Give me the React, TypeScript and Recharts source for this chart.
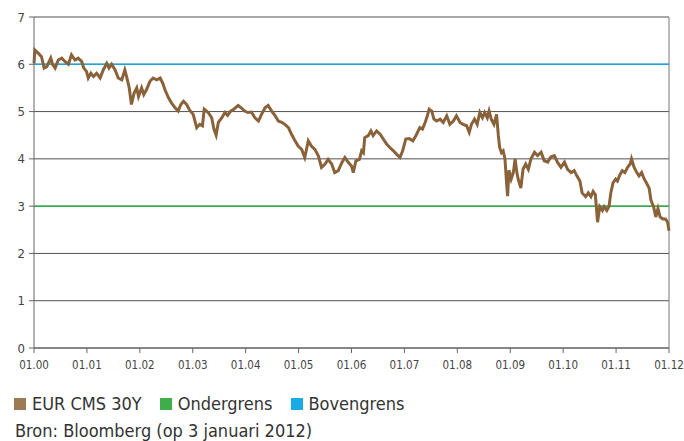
import {
	CartesianGrid,
	Line,
	LineChart,
	ReferenceLine,
	XAxis,
	YAxis,
} from 'recharts';

// months since 01.2000
const months = [
	0, 0.2, 1.0, 1.7, 2.3, 2.9, 3.8, 4.2, 4.8, 5.5, 6.3, 7.0, 7.8, 8.5, 9.3, 10.0, 10.8, 11.3, 11.9,
	12.3, 12.9, 13.5, 14.2, 15.0, 15.7, 16.5, 17.0, 17.6, 18.4, 19.1, 19.9, 20.6, 21.0, 21.6, 22.1,
	22.7, 23.3, 23.7, 24.4, 24.9, 25.5, 26.3, 27.0, 27.8, 28.6, 29.2, 29.7, 30.5, 31.2, 32.0, 32.7,
	33.3, 33.9, 34.6, 35.3, 36.1, 36.9, 37.6, 38.2, 38.6, 39.5, 40.3, 40.8, 41.3, 41.8, 42.6, 43.3,
	43.9, 44.6, 45.3, 46.3, 47.0, 47.8, 48.5, 49.3, 50.1, 50.9, 51.6, 52.4, 53.1, 53.9, 54.7, 55.4,
	56.2, 56.9, 57.7, 58.4, 59.2, 59.9, 60.7, 61.4, 62.2, 62.9, 63.7, 64.5, 65.2, 66.0, 66.7, 67.5,
	68.2, 69.0, 69.8, 70.5, 71.3, 72.0, 72.4, 73.0, 73.8, 74.3, 74.7, 75.0, 75.8, 76.4, 76.9, 77.7,
	78.5, 79.2, 80.0, 80.7, 81.5, 82.2, 83.0, 83.6, 84.3, 85.1, 85.9, 86.6, 87.5, 88.1, 88.7, 89.2,
	89.6, 90.2, 90.7, 91.3, 92.1, 92.8, 93.6, 94.3, 95.1, 95.8, 96.6, 97.3, 98.1, 98.7, 99.2, 99.9,
	100.5, 101.1, 101.7, 102.2, 102.8, 103.2, 103.7, 104.3, 104.9, 105.3, 105.6, 106.0, 106.4, 106.8,
	107.2, 107.4, 107.7, 108.2, 108.7, 109.1, 109.5, 109.8, 110.4, 110.9, 111.5, 112.1, 112.7, 113.5,
	114.2, 115.0, 115.7, 116.5, 117.2, 118.0, 118.7, 119.5, 120.3, 121.0, 121.8, 122.5, 123.1, 123.8,
	124.3, 125.1, 125.7, 126.3, 126.8, 127.3, 127.8, 128.3, 128.9, 129.3, 129.9, 130.4, 130.8, 131.3,
	131.9, 132.3, 132.9, 133.4, 134.0, 134.6, 135.2, 135.5, 136.1, 136.7, 137.2, 137.8, 138.4, 138.9,
	139.5, 139.9, 140.5, 141.0, 141.5, 142.0, 142.6, 143.2, 143.7, 144.0,
];

const cms30y = [
	6.02, 6.3, 6.23, 6.16, 5.92, 5.95, 6.13, 6.0, 5.92, 6.09, 6.13, 6.06, 6.0, 6.2, 6.09, 6.13, 6.06, 5.92, 5.85,
	5.71, 5.81, 5.74, 5.81, 5.71, 5.88, 6.02, 5.92, 6.0, 5.88, 5.71, 5.67, 5.88, 5.74, 5.5, 5.15,
	5.39, 5.5, 5.32, 5.5, 5.36, 5.46, 5.64, 5.71, 5.67, 5.71, 5.6, 5.46, 5.29, 5.18, 5.08, 5.01,
	5.15, 5.22, 5.15, 5.03, 4.94, 4.66, 4.73, 4.7, 5.05, 4.98, 4.87, 4.63, 4.5, 4.77, 4.87, 4.98,
	4.92, 5.01, 5.05, 5.13, 5.08, 5.01, 4.98, 4.99, 4.87, 4.8, 4.94, 5.08, 5.13, 5.01, 4.91, 4.8,
	4.77, 4.73, 4.66, 4.52, 4.38, 4.27, 4.2, 4.03, 4.38, 4.27, 4.2, 4.06, 3.82, 3.89, 3.99, 3.89,
	3.71, 3.75, 3.92, 4.03, 3.92, 3.85, 3.71, 3.96, 3.99, 4.17, 4.13, 4.45, 4.49, 4.59, 4.49, 4.59,
	4.52, 4.42, 4.31, 4.24, 4.17, 4.1, 4.03, 4.17, 4.42, 4.43, 4.38, 4.49, 4.66, 4.63, 4.77, 4.91,
	5.05, 5.01, 4.84, 4.8, 4.84, 4.77, 4.91, 4.73, 4.8, 4.91, 4.77, 4.73, 4.7, 4.56, 4.73, 4.84,
	4.73, 4.98, 4.87, 4.98, 4.87, 5.01, 4.84, 4.73, 4.94, 4.49, 4.24, 4.13, 4.17, 4.0,
	3.45, 3.21, 3.76, 3.57, 3.71, 4.0, 3.71, 3.57, 3.38, 3.78, 3.89, 3.78, 4.0, 4.14,
	4.07, 4.14, 3.96, 3.93, 4.04, 4.07, 3.93, 3.82, 3.93, 3.78, 3.71, 3.75, 3.64, 3.53,
	3.28, 3.2, 3.28, 3.2, 3.31, 3.24, 2.66, 2.99, 2.91, 2.99, 2.91, 2.99, 3.28, 3.49,
	3.57, 3.53, 3.67, 3.75, 3.71, 3.82, 3.89, 4.0, 3.82, 3.71, 3.64, 3.71, 3.57, 3.49,
	3.38, 3.13, 2.99, 2.77, 2.95, 2.77, 2.73, 2.73, 2.66, 2.48,
];

const ONDERGRENS = 3;
const BOVENGRENS = 6;

const xTicks = [0, 12, 24, 36, 48, 60, 72, 84, 96, 108, 120, 132, 144];
const yTicks = [0, 1, 2, 3, 4, 5, 6, 7];

const COLORS = { cms: '#8a6239', onder: '#2fb34a', boven: '#17a6e0' };
const FONT = '"Liberation Sans Narrow", "DejaVu Sans Condensed", sans-serif';

const data = months.map((m, i) => ({
	m,
	cms: cms30y[i],
	onder: ONDERGRENS,
	boven: BOVENGRENS,
}));

const legendItems = [
	{ label: 'EUR CMS 30Y', color: '#9c7a52' },
	{ label: 'Ondergrens', color: '#3fae49' },
	{ label: 'Bovengrens', color: '#1aaae6' },
];

function fmtTick(v: number) {
	const y = Math.round(v / 12);
	return '01.' + String(y).padStart(2, '0');
}

export default function App() {
	// body margin is dropped and replaced by padding so #root spans the full 684x441
	return (
		<div
			style={{
				width: 684,
				height: 441,
				boxSizing: 'border-box',
				padding: '8px 0 0 8px',
				overflow: 'hidden',
				fontFamily: FONT,
				color: '#333',
			}}
		>
			<style>{'body{margin:0}'}</style>
			<LineChart
				width={676}
				height={370}
				data={data}
				margin={{ top: 9, right: 15, left: 0, bottom: 0 }}
				style={{ overflow: 'visible' }}
			>
				<CartesianGrid vertical={false} stroke="#333" strokeOpacity={0.85} />
				<XAxis
					dataKey="m"
					type="number"
					domain={[0, 144]}
					ticks={xTicks}
					tickFormatter={fmtTick}
					stroke="#666"
					tickSize={5}
					tickMargin={8}
					tick={{ fontSize: 11.5, fill: '#444', fontFamily: FONT }}
					interval={0}
				/>
				<YAxis
					domain={[0, 7]}
					ticks={yTicks}
					width={26}
					stroke="#666"
					tickSize={5}
					tickMargin={4}
					tick={{ fontSize: 13, fill: '#444', fontFamily: FONT }}
				/>
				<ReferenceLine x={144} stroke="#777" />
				<Line
					dataKey="onder"
					stroke={COLORS.onder}
					strokeWidth={1.5}
					dot={false}
					isAnimationActive={false}
				/>
				<Line
					dataKey="boven"
					stroke={COLORS.boven}
					strokeWidth={1.5}
					dot={false}
					isAnimationActive={false}
				/>
				<Line
					dataKey="cms"
					stroke={COLORS.cms}
					strokeWidth={3}
					dot={false}
					isAnimationActive={false}
				/>
			</LineChart>
			<div style={{ display: 'flex', alignItems: 'center', marginTop: 16, marginLeft: 6, fontSize: 18, lineHeight: '20px' }}>
				{legendItems.map((it) => (
					<div key={it.label} style={{ display: 'flex', alignItems: 'center', marginRight: 18 }}>
						<span style={{ width: 12, height: 12, background: it.color, marginRight: 6, display: 'inline-block' }} />
						<span>{it.label}</span>
					</div>
				))}
			</div>
			<div style={{ marginLeft: 7, marginTop: 7, fontSize: 18, lineHeight: '20px' }}>Bron: Bloomberg (op 3 januari 2012)</div>
		</div>
	);
}
